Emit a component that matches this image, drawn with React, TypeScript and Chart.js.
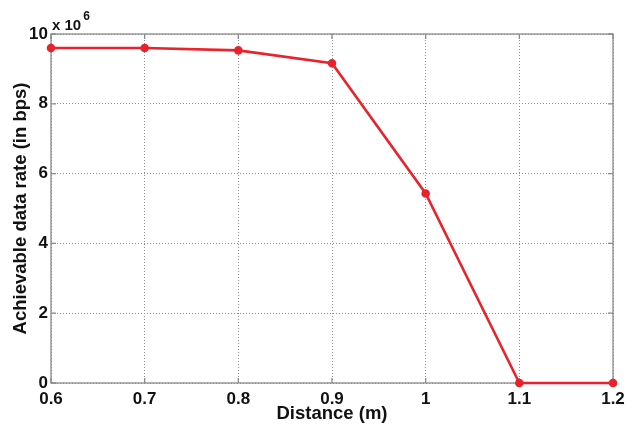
import React, { useEffect, useRef } from "react";
import { Chart, registerables } from "chart.js";

Chart.register(...registerables);

const distances = [0.6, 0.7, 0.8, 0.9, 1.0, 1.1, 1.2];
const ratesMillions = [9.6, 9.6, 9.53, 9.16, 5.43, 0, 0];
const yTicks = [0, 2, 4, 6, 8, 10];
const xTicks = [0.6, 0.7, 0.8, 0.9, 1.0, 1.1, 1.2];

const FONT = "'Liberation Sans', Arial, sans-serif";
const RED = "#e8232b";

const framePlugin = {
  id: "matlabFrame",
  beforeDatasetsDraw(chart: any) {
    const { ctx, chartArea: a, scales } = chart;
    ctx.save();
    ctx.strokeStyle = "#8a8a8a";
    ctx.lineWidth = 1.3;
    ctx.strokeRect(a.left, a.top, a.right - a.left, a.bottom - a.top);
    const tl = 5;
    ctx.beginPath();
    xTicks.forEach((v) => {
      const x = scales.x.getPixelForValue(v);
      ctx.moveTo(x, a.bottom);
      ctx.lineTo(x, a.bottom - tl);
      ctx.moveTo(x, a.top);
      ctx.lineTo(x, a.top + tl);
    });
    yTicks.forEach((v) => {
      const y = scales.y.getPixelForValue(v);
      ctx.moveTo(a.left, y);
      ctx.lineTo(a.left + tl, y);
      ctx.moveTo(a.right, y);
      ctx.lineTo(a.right - tl, y);
    });
    ctx.stroke();
    ctx.restore();
  },
  afterDraw(chart: any) {
    const { ctx, chartArea: a } = chart;
    ctx.save();
    ctx.fillStyle = "#111";
    ctx.textBaseline = "alphabetic";
    ctx.textAlign = "left";
    ctx.font = `bold 15px ${FONT}`;
    ctx.fillText("x 10", a.left + 1, 30);
    const w = ctx.measureText("x 10").width;
    ctx.font = `bold 12px ${FONT}`;
    ctx.fillText("6", a.left + 3 + w, 20);
    ctx.restore();
  },
};

export default function App() {
  const ref = useRef<HTMLCanvasElement | null>(null);
  useEffect(() => {
    if (!ref.current) return;
    const chart = new Chart(ref.current, {
      type: "line",
      data: {
        datasets: [
          {
            data: distances.map((d, i) => ({ x: d, y: ratesMillions[i] })),
            borderColor: RED,
            backgroundColor: RED,
            borderWidth: 2.6,
            pointRadius: 3,
            pointBackgroundColor: RED,
            pointBorderColor: RED,
            tension: 0,
            clip: false,
          },
        ],
      },
      options: {
        animation: false,
        responsive: false,
        layout: { padding: { left: 0, right: 23, top: 34, bottom: 0 } },
        plugins: { legend: { display: false }, tooltip: { enabled: false } },
        scales: {
          x: {
            type: "linear",
            min: 0.6,
            max: 1.2,
            afterFit: (s: any) => {
              s.height = 44;
            },
            afterBuildTicks: (s: any) => {
              s.ticks = xTicks.map((v) => ({ value: v }));
            },
            ticks: {
              padding: 6,
              color: "#111",
              font: { family: FONT, size: 17, weight: "bold" },
              callback: (v: any) => String(parseFloat(Number(v).toFixed(1))),
              maxRotation: 0,
            },
            grid: { color: "#8f8f8f", drawTicks: false, lineWidth: 1 },
            border: { display: false, dash: [1, 2] },
            title: {
              display: true,
              text: "Distance (m)",
              color: "#111",
              font: { family: FONT, size: 18.5, weight: "bold" },
              padding: { top: 0, bottom: 2 },
            },
          },
          y: {
            type: "linear",
            min: 0,
            max: 10,
            afterFit: (s: any) => {
              s.width = 51;
            },
            afterBuildTicks: (s: any) => {
              s.ticks = yTicks.map((v) => ({ value: v }));
            },
            ticks: {
              padding: 3,
              color: "#111",
              font: { family: FONT, size: 17, weight: "bold" },
              callback: (v: any) => String(v),
            },
            grid: { color: "#8f8f8f", drawTicks: false, lineWidth: 1 },
            border: { display: false, dash: [1, 2] },
            title: {
              display: true,
              text: "Achievable data rate (in bps)",
              color: "#111",
              font: { family: FONT, size: 18.5, weight: "bold" },
              padding: { top: 10, bottom: 0 },
            },
          },
        },
      },
      plugins: [framePlugin],
    });
    return () => chart.destroy();
  }, []);
  return (
    <div style={{ position: "absolute", left: 0, top: 0, width: 636, height: 427, background: "#fff" }}>
      <canvas ref={ref} width={636} height={427} style={{ width: 636, height: 427 }} />
    </div>
  );
}
